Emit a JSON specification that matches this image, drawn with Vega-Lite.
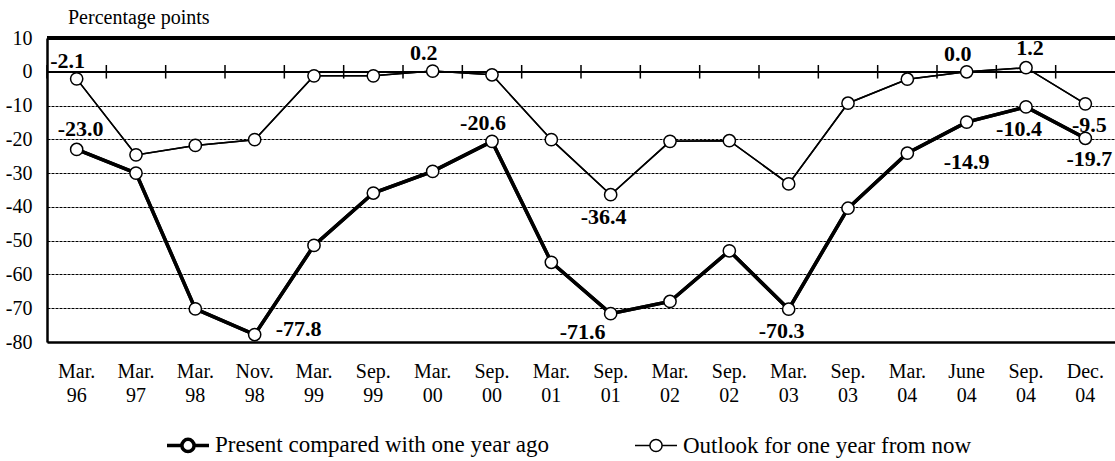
{
  "$schema": "https://vega.github.io/schema/vega-lite/v6.json",
  "width": 1068,
  "height": 304,
  "autosize": "none",
  "padding": {"left": 47, "top": 38, "right": 0, "bottom": 119},
  "background": "white",
  "config": {
    "locale": {"number": {"decimal": ".", "thousands": ",", "grouping": [3], "currency": ["$", ""], "minus": "-"}},
    "view": {"stroke": null},
    "font": "Liberation Serif",
    "text": {"font": "Liberation Serif", "fontWeight": "bold", "fontSize": 22, "color": "black", "baseline": "middle", "align": "center"}
  },
  "title": {"text": "Percentage points", "anchor": "start", "frame": "group", "font": "Liberation Serif", "fontSize": 20, "fontWeight": "normal", "color": "black", "dx": 21, "offset": 0},
  "data": {"values": [
    {"date": "Mar. 96", "series": "Present compared with one year ago", "value": -23.0},
    {"date": "Mar. 97", "series": "Present compared with one year ago", "value": -30.0},
    {"date": "Mar. 98", "series": "Present compared with one year ago", "value": -70.2},
    {"date": "Nov. 98", "series": "Present compared with one year ago", "value": -77.8},
    {"date": "Mar. 99", "series": "Present compared with one year ago", "value": -51.4},
    {"date": "Sep. 99", "series": "Present compared with one year ago", "value": -35.9},
    {"date": "Mar. 00", "series": "Present compared with one year ago", "value": -29.5},
    {"date": "Sep. 00", "series": "Present compared with one year ago", "value": -20.6},
    {"date": "Mar. 01", "series": "Present compared with one year ago", "value": -56.4},
    {"date": "Sep. 01", "series": "Present compared with one year ago", "value": -71.6},
    {"date": "Mar. 02", "series": "Present compared with one year ago", "value": -68.0},
    {"date": "Sep. 02", "series": "Present compared with one year ago", "value": -53.0},
    {"date": "Mar. 03", "series": "Present compared with one year ago", "value": -70.3},
    {"date": "Sep. 03", "series": "Present compared with one year ago", "value": -40.4},
    {"date": "Mar. 04", "series": "Present compared with one year ago", "value": -24.1},
    {"date": "June 04", "series": "Present compared with one year ago", "value": -14.9},
    {"date": "Sep. 04", "series": "Present compared with one year ago", "value": -10.4},
    {"date": "Dec. 04", "series": "Present compared with one year ago", "value": -19.7},
    {"date": "Mar. 96", "series": "Outlook for one year from now", "value": -2.1},
    {"date": "Mar. 97", "series": "Outlook for one year from now", "value": -24.6},
    {"date": "Mar. 98", "series": "Outlook for one year from now", "value": -21.8},
    {"date": "Nov. 98", "series": "Outlook for one year from now", "value": -20.1},
    {"date": "Mar. 99", "series": "Outlook for one year from now", "value": -1.2},
    {"date": "Sep. 99", "series": "Outlook for one year from now", "value": -1.2},
    {"date": "Mar. 00", "series": "Outlook for one year from now", "value": 0.2},
    {"date": "Sep. 00", "series": "Outlook for one year from now", "value": -0.9},
    {"date": "Mar. 01", "series": "Outlook for one year from now", "value": -20.1},
    {"date": "Sep. 01", "series": "Outlook for one year from now", "value": -36.4},
    {"date": "Mar. 02", "series": "Outlook for one year from now", "value": -20.6},
    {"date": "Sep. 02", "series": "Outlook for one year from now", "value": -20.4},
    {"date": "Mar. 03", "series": "Outlook for one year from now", "value": -33.2},
    {"date": "Sep. 03", "series": "Outlook for one year from now", "value": -9.3},
    {"date": "Mar. 04", "series": "Outlook for one year from now", "value": -2.2},
    {"date": "June 04", "series": "Outlook for one year from now", "value": 0.0},
    {"date": "Sep. 04", "series": "Outlook for one year from now", "value": 1.2},
    {"date": "Dec. 04", "series": "Outlook for one year from now", "value": -9.5}
  ]},
  "layer": [
    {
      "mark": {"type": "line", "color": "black"},
      "encoding": {
        "x": {"field": "date", "type": "nominal", "sort": null, "bandPosition": 0.5,
          "scale": {"type": "band", "paddingInner": 0, "paddingOuter": 0},
          "axis": {"title": null, "ticks": false, "domain": true, "domainWidth": 2.5, "domainColor": "black", "labelExpr": "split(datum.value, ' ')", "labelFont": "Liberation Serif", "labelFontSize": 20, "labelLineHeight": 24, "labelPadding": 19, "labelAngle": 0, "labelColor": "black", "grid": false, "labelBaseline": "top", "labelOverlap": false}},
        "y": {"field": "value", "type": "quantitative",
          "scale": {"domain": [-80, 10], "nice": false, "zero": false},
          "axis": {"title": null, "values": [-80, -70, -60, -50, -40, -30, -20, -10, 0, 10], "tickCount": 20, "ticks": false, "labelPadding": 15, "labelOverlap": false, "domainWidth": 2.5, "domainColor": "black", "grid": true, "gridDash": [3, 1], "gridColor": "black", "gridWidth": 1, "gridOpacity": 1, "labelFont": "Liberation Serif", "labelFontSize": 20, "labelColor": "black"}},
        "strokeWidth": {"field": "series", "type": "nominal",
          "scale": {"domain": ["Present compared with one year ago", "Outlook for one year from now"], "range": [3.5, 1.5]},
          "legend": {"title": null, "orient": "none", "legendX": 118, "legendY": 384, "direction": "horizontal", "columns": 2, "columnPadding": 82,
            "symbolType": "M-1,0L-0.29,0M0.29,0L1,0M-0.29,0A0.29,0.29,0,1,1,0.29,0A0.29,0.29,0,1,1,-0.29,0",
            "symbolSize": 1764, "symbolStrokeColor": "black", "symbolFillColor": "white", "labelFont": "Liberation Serif", "labelFontSize": 23, "labelColor": "black", "labelLimit": 0, "labelOffset": 4}}
      }
    },
    {
      "mark": {"type": "rule", "color": "black", "strokeWidth": 2.5},
      "encoding": {"y": {"datum": 10}}
    },
    {
      "mark": {"type": "rule", "color": "black", "strokeWidth": 1.5},
      "encoding": {"y": {"datum": 0}}
    },
    {
      "transform": [{"filter": "datum.series == 'Present compared with one year ago'"}],
      "mark": {"type": "rule", "color": "black", "strokeWidth": 1.5},
      "encoding": {
        "x": {"field": "date", "type": "nominal", "sort": null, "bandPosition": 0},
        "y": {"datum": -2},
        "y2": {"datum": 2}
      }
    },
    {
      "mark": {"type": "line", "color": "black"},
      "encoding": {
        "x": {"field": "date", "type": "nominal", "sort": null, "bandPosition": 0.5},
        "y": {"field": "value", "type": "quantitative"},
        "strokeWidth": {"field": "series", "type": "nominal", "legend": null}
      }
    },
    {
      "mark": {"type": "point", "shape": "circle", "filled": true, "fill": "white", "stroke": "black", "strokeWidth": 1.5, "size": 150, "opacity": 1},
      "encoding": {
        "x": {"field": "date", "type": "nominal", "sort": null, "bandPosition": 0.5},
        "y": {"field": "value", "type": "quantitative"}
      }
    },
    {
      "transform": [{"filter": "(datum.series == 'Outlook for one year from now' && indexof(['Mar. 96', 'Mar. 00', 'June 04'], datum.date) >= 0) || (datum.series == 'Present compared with one year ago' && datum.date == 'Sep. 00')"}],
      "mark": {"type": "text", "dx": -9, "dy": -18},
      "encoding": {
        "x": {"field": "date", "type": "nominal", "sort": null, "bandPosition": 0.5},
        "y": {"field": "value", "type": "quantitative"},
        "text": {"field": "value", "type": "quantitative", "format": ".1f"}
      }
    },
    {
      "transform": [{"filter": "(datum.series == 'Outlook for one year from now' && datum.date == 'Sep. 04') || (datum.series == 'Present compared with one year ago' && datum.date == 'Mar. 96')"}],
      "mark": {"type": "text", "dx": 4, "dy": -20},
      "encoding": {
        "x": {"field": "date", "type": "nominal", "sort": null, "bandPosition": 0.5},
        "y": {"field": "value", "type": "quantitative"},
        "text": {"field": "value", "type": "quantitative", "format": ".1f"}
      }
    },
    {
      "transform": [{"filter": "datum.series == 'Present compared with one year ago' && datum.date == 'Nov. 98'"}],
      "mark": {"type": "text", "dx": 44, "dy": -6},
      "encoding": {
        "x": {"field": "date", "type": "nominal", "sort": null, "bandPosition": 0.5},
        "y": {"field": "value", "type": "quantitative"},
        "text": {"field": "value", "type": "quantitative", "format": ".1f"}
      }
    },
    {
      "transform": [{"filter": "(datum.series == 'Outlook for one year from now' && datum.date == 'Sep. 01') || (datum.series == 'Present compared with one year ago' && indexof(['Mar. 03', 'Sep. 04'], datum.date) >= 0)"}],
      "mark": {"type": "text", "dx": -7, "dy": 22},
      "encoding": {
        "x": {"field": "date", "type": "nominal", "sort": null, "bandPosition": 0.5},
        "y": {"field": "value", "type": "quantitative"},
        "text": {"field": "value", "type": "quantitative", "format": ".1f"}
      }
    },
    {
      "transform": [{"filter": "datum.series == 'Present compared with one year ago' && datum.date == 'Sep. 01'"}],
      "mark": {"type": "text", "dx": -28, "dy": 18},
      "encoding": {
        "x": {"field": "date", "type": "nominal", "sort": null, "bandPosition": 0.5},
        "y": {"field": "value", "type": "quantitative"},
        "text": {"field": "value", "type": "quantitative", "format": ".1f"}
      }
    },
    {
      "transform": [{"filter": "datum.date == 'Dec. 04'"}],
      "mark": {"type": "text", "dx": 4, "dy": 21},
      "encoding": {
        "x": {"field": "date", "type": "nominal", "sort": null, "bandPosition": 0.5},
        "y": {"field": "value", "type": "quantitative"},
        "text": {"field": "value", "type": "quantitative", "format": ".1f"}
      }
    },
    {
      "transform": [{"filter": "datum.series == 'Present compared with one year ago' && datum.date == 'June 04'"}],
      "mark": {"type": "text", "dx": 0, "dy": 40},
      "encoding": {
        "x": {"field": "date", "type": "nominal", "sort": null, "bandPosition": 0.5},
        "y": {"field": "value", "type": "quantitative"},
        "text": {"field": "value", "type": "quantitative", "format": ".1f"}
      }
    }
  ]
}
